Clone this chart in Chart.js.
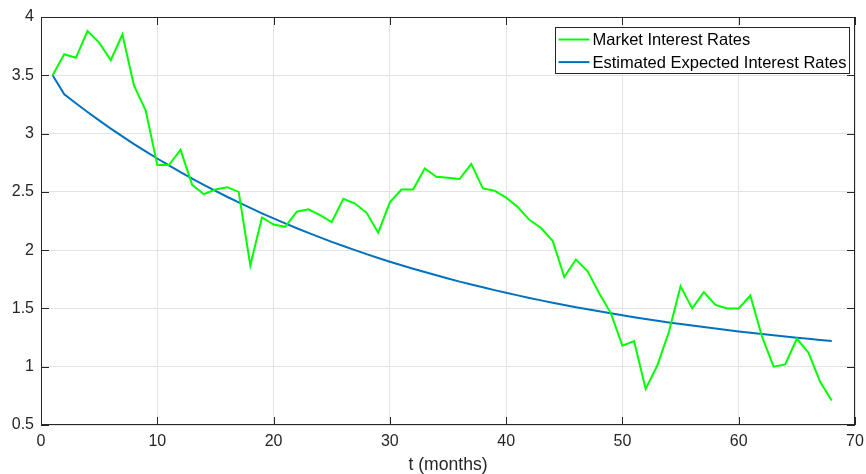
<!DOCTYPE html>
<html>
<head>
<meta charset="utf-8">
<script src="https://cdn.jsdelivr.net/npm/chart.js@4.4.1/dist/chart.umd.min.js"></script>
<style>
  html, body { margin: 0; padding: 0; background: #ffffff; }
  #wrap { width: 866px; height: 474px; }
</style>
</head>
<body>
<div id="wrap"><canvas id="c" width="866" height="474"></canvas></div>
<script>
// Month index (t) for each observation
const months = [
   1,  2,  3,  4,  5,  6,  7,  8,  9, 10, 11, 12, 13, 14, 15, 16, 17,
  18, 19, 20, 21, 22, 23, 24, 25, 26, 27, 28, 29, 30, 31, 32, 33, 34,
  35, 36, 37, 38, 39, 40, 41, 42, 43, 44, 45, 46, 47, 48, 49, 50, 51,
  52, 53, 54, 55, 56, 57, 58, 59, 60, 61, 62, 63, 64, 65, 66, 67, 68
];

// Observed market interest rates (%)
const marketRates = [
  3.50, 3.68, 3.65, 3.88, 3.78, 3.63, 3.85, 3.41, 3.20, 2.73, 2.73, 2.86, 2.56, 2.48, 2.52, 2.54, 2.50,
  1.87, 2.28, 2.22, 2.20, 2.33, 2.35, 2.30, 2.24, 2.44, 2.40, 2.32, 2.15, 2.41, 2.52, 2.52, 2.70, 2.63,
  2.62, 2.61, 2.74, 2.53, 2.51, 2.45, 2.37, 2.26, 2.19, 2.08, 1.77, 1.92, 1.82, 1.63, 1.46, 1.18, 1.22,
  0.81, 1.01, 1.30, 1.69, 1.50, 1.64, 1.53, 1.50, 1.50, 1.61, 1.26, 1.00, 1.02, 1.24, 1.12, 0.87, 0.71
];

// Model-estimated expected interest rates (%)
const expectedRates = [
  3.500, 3.337, 3.260, 3.185, 3.113, 3.043, 2.976, 2.910, 2.847, 2.786, 2.727, 2.669, 2.614, 2.560, 2.508, 2.458, 2.409,
  2.362, 2.316, 2.272, 2.229, 2.188, 2.148, 2.109, 2.071, 2.035, 2.000, 1.966, 1.933, 1.901, 1.870, 1.840, 1.812, 1.784,
  1.757, 1.730, 1.705, 1.681, 1.657, 1.634, 1.612, 1.590, 1.569, 1.549, 1.530, 1.511, 1.493, 1.475, 1.458, 1.441, 1.425,
  1.410, 1.395, 1.380, 1.366, 1.353, 1.340, 1.327, 1.314, 1.303, 1.291, 1.280, 1.269, 1.259, 1.248, 1.239, 1.229, 1.220
];

const seriesLabels = ['Market Interest Rates', 'Estimated Expected Interest Rates'];
const xTickValues = [0, 10, 20, 30, 40, 50, 60, 70];
const yTickValues = [0.5, 1, 1.5, 2, 2.5, 3, 3.5, 4];
const xAxisTitle = 't (months)';

const AXIS_COLOR = '#262626';
const GRID_COLOR = '#e3e3e3';
const FONT_FAMILY = '"Liberation Sans", Arial, Helvetica, sans-serif';

const toPoints = (ys) => months.map((m, i) => ({ x: m, y: ys[i] }));

// Let the layout padding alone decide where the plot area sits
const clearScalePadding = (s) => {
  s.paddingLeft = 0; s.paddingRight = 0; s.paddingTop = 0; s.paddingBottom = 0;
};

// Box around the axes with inward-pointing tick marks on all four sides
const axesFrame = {
  id: 'axesFrame',
  afterDatasetsDraw(chart) {
    const { ctx, chartArea: a, scales: { x, y } } = chart;
    const len = 8;
    ctx.save();
    ctx.strokeStyle = AXIS_COLOR;
    ctx.lineWidth = 1;
    ctx.beginPath();
    x.ticks.forEach(t => {
      const px = Math.round(x.getPixelForValue(t.value)) + 0.5;
      ctx.moveTo(px, a.bottom); ctx.lineTo(px, a.bottom - len);
      ctx.moveTo(px, a.top); ctx.lineTo(px, a.top + len);
    });
    y.ticks.forEach(t => {
      const py = Math.round(y.getPixelForValue(t.value)) + 0.5;
      ctx.moveTo(a.left, py); ctx.lineTo(a.left + len, py);
      ctx.moveTo(a.right, py); ctx.lineTo(a.right - len, py);
    });
    ctx.stroke();
    ctx.strokeRect(Math.round(a.left) + 0.5, Math.round(a.top) + 0.5,
                   Math.round(a.right - a.left) - 1, Math.round(a.bottom - a.top) - 1);
    ctx.restore();
  }
};

// Boxed legend in the upper-right corner of the plot area
const boxedLegend = {
  id: 'boxedLegend',
  afterDraw(chart) {
    const { ctx, chartArea: a } = chart;
    const fontSize = 16.5;
    ctx.save();
    ctx.font = fontSize + 'px ' + FONT_FAMILY;
    const textW = Math.max(...chart.data.datasets.map(d => ctx.measureText(d.label).width));
    const sampleX = 3, sampleW = 31, textGap = 3, padR = 3, rowH = 22.6;
    const boxW = Math.round(sampleX + sampleW + textGap + textW + padR);
    const boxH = 46;
    const left = Math.round(a.right - 6 - boxW) + 0.5;
    const top = Math.round(a.top + 10) + 0.5;
    ctx.fillStyle = '#ffffff';
    ctx.fillRect(left, top, boxW, boxH);
    ctx.strokeStyle = AXIS_COLOR;
    ctx.lineWidth = 1;
    ctx.strokeRect(left, top, boxW, boxH);
    chart.data.datasets.forEach((d, i) => {
      const cy = top + 12 + i * rowH;
      ctx.strokeStyle = d.borderColor;
      ctx.lineWidth = d.borderWidth;
      ctx.beginPath();
      ctx.moveTo(left + sampleX, cy);
      ctx.lineTo(left + sampleX + sampleW, cy);
      ctx.stroke();
      ctx.fillStyle = '#000000';
      ctx.textBaseline = 'middle';
      ctx.textAlign = 'left';
      ctx.fillText(d.label, left + sampleX + sampleW + textGap, cy + 1);
    });
    ctx.restore();
  }
};

new Chart(document.getElementById('c'), {
  type: 'line',
  data: {
    datasets: [
      {
        label: seriesLabels[0],
        data: toPoints(marketRates),
        borderColor: '#00ff00',
        backgroundColor: '#00ff00',
        borderWidth: 2,
        pointRadius: 0,
        tension: 0,
        fill: false
      },
      {
        label: seriesLabels[1],
        data: toPoints(expectedRates),
        borderColor: '#0072bd',
        backgroundColor: '#0072bd',
        borderWidth: 2,
        pointRadius: 0,
        tension: 0,
        fill: false
      }
    ]
  },
  options: {
    responsive: false,
    animation: false,
    devicePixelRatio: 1,
    layout: { padding: { top: 17, right: 11, left: 0, bottom: 0 } },
    plugins: {
      legend: { display: false },
      tooltip: { enabled: false }
    },
    scales: {
      x: {
        type: 'linear',
        min: 0,
        max: 70,
        afterBuildTicks: s => { s.ticks = xTickValues.map(v => ({ value: v })); },
        afterFit: s => { s.height = 49; clearScalePadding(s); },
        grid: { color: GRID_COLOR, drawTicks: false, lineWidth: 1 },
        border: { display: false },
        ticks: {
          padding: 7,
          color: AXIS_COLOR,
          font: { family: FONT_FAMILY, size: 16 },
          maxRotation: 0,
          callback: v => String(v)
        },
        title: {
          display: true,
          text: xAxisTitle,
          color: AXIS_COLOR,
          font: { family: FONT_FAMILY, size: 17.6, lineHeight: 1 },
          padding: { top: 0, bottom: 0 }
        }
      },
      y: {
        type: 'linear',
        min: 0.5,
        max: 4,
        afterBuildTicks: s => { s.ticks = yTickValues.map(v => ({ value: v })); },
        afterFit: s => { s.width = 41; clearScalePadding(s); },
        grid: { color: GRID_COLOR, drawTicks: false, lineWidth: 1 },
        border: { display: false },
        ticks: {
          padding: 7,
          color: AXIS_COLOR,
          font: { family: FONT_FAMILY, size: 16 },
          callback: v => String(v)
        }
      }
    }
  },
  plugins: [axesFrame, boxedLegend]
});
</script>
</body>
</html>
